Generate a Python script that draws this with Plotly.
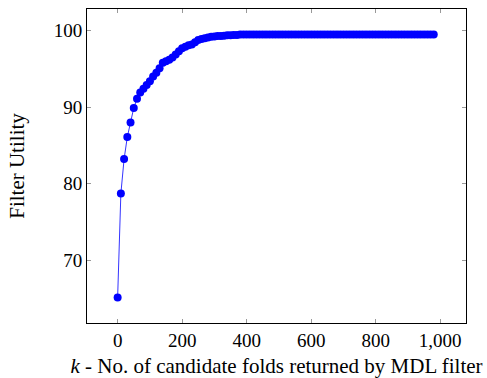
import plotly.graph_objects as go

k_values = [
    0, 10, 20, 30, 40, 50, 60, 70, 80, 90,
    100, 110, 120, 130, 140, 150, 160, 170, 180, 190,
    200, 210, 220, 230, 240, 250, 260, 270, 280, 290,
    300, 310, 320, 330, 340, 350, 360, 370, 380, 390,
    400, 410, 420, 430, 440, 450, 460, 470, 480, 490,
    500, 510, 520, 530, 540, 550, 560, 570, 580, 590,
    600, 610, 620, 630, 640, 650, 660, 670, 680, 690,
    700, 710, 720, 730, 740, 750, 760, 770, 780, 790,
    800, 810, 820, 830, 840, 850, 860, 870, 880, 890,
    900, 910, 920, 930, 940, 950, 960, 970, 980,
]

utility = [
    65.1, 78.7, 83.2, 86.1, 88.0, 89.9, 91.1, 91.9, 92.4, 92.9,
    93.4, 94.0, 94.5, 95.1, 95.8, 96.0, 96.2, 96.5, 96.9, 97.3,
    97.7, 97.9, 98.1, 98.2, 98.5, 98.8, 98.9, 99.0, 99.1, 99.2,
    99.25, 99.3, 99.3, 99.35, 99.4, 99.4, 99.45, 99.45, 99.5, 99.5,
    99.5, 99.5, 99.5, 99.5, 99.5, 99.5, 99.5, 99.5, 99.5, 99.5,
    99.5, 99.5, 99.5, 99.5, 99.5, 99.5, 99.5, 99.5, 99.5, 99.5,
    99.5, 99.5, 99.5, 99.5, 99.5, 99.5, 99.5, 99.5, 99.5, 99.5,
    99.5, 99.5, 99.5, 99.5, 99.5, 99.5, 99.5, 99.5, 99.5, 99.5,
    99.5, 99.5, 99.5, 99.5, 99.5, 99.5, 99.5, 99.5, 99.5, 99.5,
    99.5, 99.5, 99.5, 99.5, 99.5, 99.5, 99.5, 99.5, 99.5,
]

x_tickvals = [0, 200, 400, 600, 800, 1000]
x_ticktext = ["0", "200", "400", "600", "800", "1,000"]
y_tickvals = [70, 80, 90, 100]
y_ticktext = ["70", "80", "90", "100"]

x_title = "<i>k</i> - No. of candidate folds returned by MDL filter"
y_title = "Filter Utility"

FONT = "Liberation Serif"

fig = go.Figure(
    go.Scatter(
        x=k_values,
        y=utility,
        mode="lines+markers",
        line=dict(color="#0000ff", width=0.8),
        marker=dict(color="#0000ff", size=8, line=dict(width=0)),
        showlegend=False,
    )
)

axis_common = dict(
    showgrid=False,
    zeroline=False,
    showline=True,
    linecolor="black",
    linewidth=1,
    mirror="ticks",
    ticks="inside",
    ticklen=4,
    tickcolor="#999999",
    tickwidth=1,
    automargin=False,
    tickfont=dict(family=FONT, size=19, color="black"),
)

fig.update_xaxes(
    range=[-95, 1080],
    tickvals=x_tickvals,
    ticktext=x_ticktext,
    title=dict(text=x_title, font=dict(family=FONT, size=21, color="black"), standoff=10),
    **axis_common,
)
fig.update_yaxes(
    range=[61.76, 102.84],
    tickvals=y_tickvals,
    ticktext=y_ticktext,
    title=dict(text=y_title, font=dict(family=FONT, size=21, color="black"), standoff=23),
    **axis_common,
)

fig.update_layout(
    width=487,
    height=378,
    margin=dict(l=87, r=21, t=9, b=55),
    plot_bgcolor="white",
    paper_bgcolor="white",
    font=dict(family=FONT, color="black"),
)

fig.write_html(
    "out.html",
    config={"displayModeBar": False},
    post_script="document.body.style.margin='0';",
)
